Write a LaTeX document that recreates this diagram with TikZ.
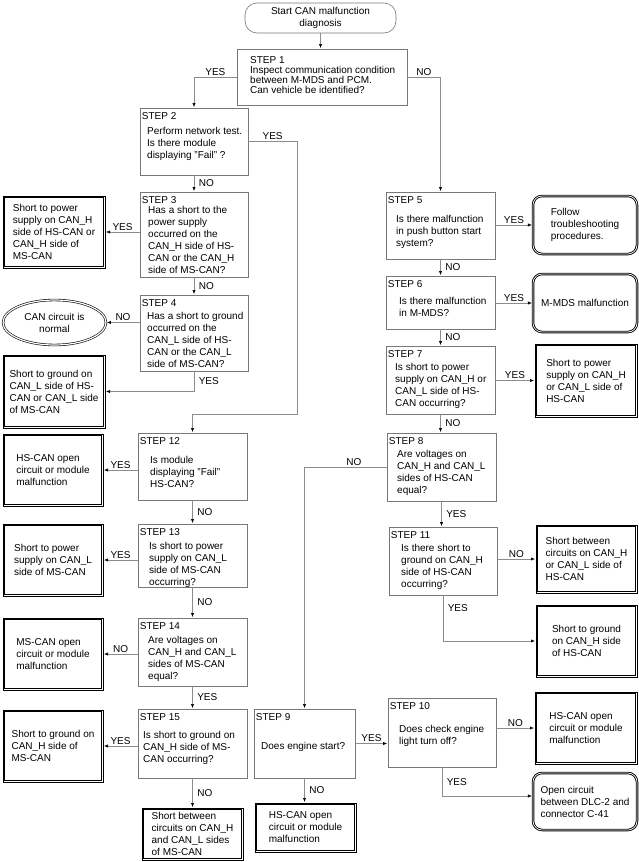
\documentclass[tikz,border=0pt]{standalone}
\usepackage{fontspec}
\setmainfont{Liberation Sans}
\usepackage{xcolor}
\usetikzlibrary{arrows.meta, shapes.geometric}
\definecolor{linegray}{RGB}{140,140,140}
\definecolor{boxgray}{RGB}{120,120,120}

\begin{document}
\begin{tikzpicture}[x=1pt, y=-1pt, font=\fontsize{10}{12}\selectfont,
    wh/.style 2 args={minimum width=#1, minimum height=#2},
    stepbox/.style={draw=boxgray, line width=0.6pt, fill=white, inner sep=0pt},
    stepno/.style={anchor=north west, inner sep=0pt},
    question/.style={anchor=west, align=left, inner sep=0pt},
    faultbox/.style={rectangle, draw=black, line width=0.8pt, align=left, inner sep=0pt},
    endbox/.style={rectangle, draw=black, double=white, double distance=0.7pt, line width=0.9pt, rounded corners=9pt, align=left, inner sep=0pt},
    flow/.style={draw=linegray, line width=0.6pt, shorten >=0.6pt, -{Latex[length=4pt, width=3.2pt, color=black]}},
    lbl/.style={inner sep=1.5pt},
    lblr/.style={lbl, right, xshift=3pt}
]
    \fill[white] (0,0) rectangle (639,862);

    % Start and step 1
    \node[stepbox, rounded corners=12pt, wh={151}{30}, align=center] (start) at (320.5,18) {Start CAN malfunction\\diagnosis};
    \node[stepbox, wh={170}{56}] (s1) at (322,77) {};
    \node[question, font=\fontsize{10}{10}\selectfont] (s1q) at (250,75.5) {STEP 1\\Inspect communication condition\\between M-MDS and PCM.\\Can vehicle be identified?};

    % Left column - steps 2 to 4
    \node[stepbox, wh={108}{67}] (s2) at (194,141.5) {};
    \node[stepno] (s2n) at ([xshift=2pt, yshift=-4.5pt]s2.north west) {STEP 2};
    \node[question] (s2q) at (147,144) {Perform network test.\\Is there module\\displaying "Fail" ?};

    \node[stepbox, wh={108}{85}] (s3) at (194,234.5) {};
    \node[stepno] (s3n) at ([xshift=2pt, yshift=-4.5pt]s3.north west) {STEP 3};
    \node[question] (s3q) at (148,240) {Has a short to the\\power supply\\occurred on the\\CAN\_H side of HS-\\CAN or the CAN\_H\\side of MS-CAN?};

    \node[stepbox, wh={108}{76}] (s4) at (194,333) {};
    \node[stepno] (s4n) at ([xshift=2pt, yshift=-4.5pt]s4.north west) {STEP 4};
    \node[question] (s4q) at (147,340) {Has a short to ground\\occurred on the\\CAN\_L side of HS-\\CAN or the CAN\_L\\side of MS-CAN?};

    \node[faultbox, wh={102}{72}] (r3) at (54,232) {Short to power\\supply on CAN\_H\\side of HS-CAN or\\CAN\_H side of\\MS-CAN};
    \node[ellipse, draw=black, double=white, double distance=1.2pt, line width=0.6pt, wh={103}{45}, align=center, inner sep=0pt] (ok) at (54.5,322.5) {CAN circuit is\\normal};
    \node[faultbox, wh={102}{73}] (r4) at (54,391.5) {Short to ground on\\CAN\_L side of HS-\\CAN or CAN\_L side\\of MS-CAN};

    % Left column - steps 12 to 15
    \node[stepbox, wh={109}{67}] (s12) at (192.5,466.5) {};
    \node[stepno] (s12n) at ([xshift=2pt, yshift=-4.5pt]s12.north west) {STEP 12};
    \node[question] (s12q) at (150,472) {Is module\\displaying "Fail"\\HS-CAN?};

    \node[stepbox, wh={109}{63}] (s13) at (192.5,555.5) {};
    \node[stepno] (s13n) at ([xshift=2pt, yshift=-4.5pt]s13.north west) {STEP 13};
    \node[question] (s13q) at (149,565) {Is short to power\\supply on CAN\_L\\side of MS-CAN\\occurring?};

    \node[stepbox, wh={109}{68}] (s14) at (192.5,652) {};
    \node[stepno] (s14n) at ([xshift=2pt, yshift=-4.5pt]s14.north west) {STEP 14};
    \node[question] (s14q) at (148,658.5) {Are voltages on\\CAN\_H and CAN\_L\\sides of MS-CAN\\equal?};

    \node[stepbox, wh={109}{69}] (s15) at (192.5,743.5) {};
    \node[stepno] (s15n) at ([xshift=2pt, yshift=-4.5pt]s15.north west) {STEP 15};
    \node[question] (s15q) at (143,748) {Is short to ground on\\CAN\_H side of MS-\\CAN occurring?};

    \node[faultbox, wh={100}{72}] (r12) at (53,470) {HS-CAN open\\circuit or module\\malfunction};
    \node[faultbox, wh={100}{72}] (r13) at (53,560) {Short to power\\supply on CAN\_L\\side of MS-CAN};
    \node[faultbox, wh={100}{72}] (r14) at (53,654) {MS-CAN open\\circuit or module\\malfunction};
    \node[faultbox, wh={100}{72}] (r15) at (53,746) {Short to ground on\\CAN\_H side of\\MS-CAN};
    \node[faultbox, wh={101}{52}] (r15n) at (192.5,834) {Short between\\circuits on CAN\_H\\and CAN\_L sides\\of MS-CAN};

    % Right column - steps 5 to 11
    \node[stepbox, wh={109}{67}] (s5) at (440.5,225.5) {};
    \node[stepno] (s5n) at ([xshift=2pt, yshift=-4.5pt]s5.north west) {STEP 5};
    \node[question] (s5q) at (396,232) {Is there malfunction\\in push button start\\system?};

    \node[stepbox, wh={109}{53}] (s6) at (440.5,302.5) {};
    \node[stepno] (s6n) at ([xshift=2pt, yshift=-4.5pt]s6.north west) {STEP 6};
    \node[question] (s6q) at (399,307) {Is there malfunction\\in M-MDS?};

    \node[stepbox, wh={109}{68}] (s7) at (440.5,380) {};
    \node[stepno] (s7n) at ([xshift=2pt, yshift=-4.5pt]s7.north west) {STEP 7};
    \node[question] (s7q) at (395,386) {Is short to power\\supply on CAN\_H or\\CAN\_L side of HS-\\CAN occurring?};

    \node[stepbox, wh={109}{68}] (s8) at (441.5,467) {};
    \node[stepno] (s8n) at ([xshift=2pt, yshift=-4.5pt]s8.north west) {STEP 8};
    \node[question] (s8q) at (397,473) {Are voltages on\\CAN\_H and CAN\_L\\sides of HS-CAN\\equal?};

    \node[stepbox, wh={108}{68}] (s11) at (443,561) {};
    \node[stepno] (s11n) at ([xshift=2pt, yshift=-4.5pt]s11.north west) {STEP 11};
    \node[question] (s11q) at (401,567) {Is there short to\\ground on CAN\_H\\side of HS-CAN\\occurring?};

    \node[endbox, wh={104}{58}] (r5) at (585,225) {Follow\\troubleshooting\\procedures.};
    \node[endbox, wh={104}{58}] (r6) at (585,303) {M-MDS malfunction};
    \node[faultbox, wh={102}{73}] (r7) at (586,380.5) {Short to power\\supply on CAN\_H\\or CAN\_L side of\\HS-CAN};
    \node[faultbox, wh={101}{68}] (r11n) at (586.5,559) {Short between\\circuits on CAN\_H\\or CAN\_L side of\\HS-CAN};
    \node[faultbox, wh={101}{72}] (r11y) at (586.5,641) {Short to ground\\on CAN\_H side\\of HS-CAN};

    % Bottom - steps 9 and 10
    \node[stepbox, wh={101}{69}] (s9) at (304.5,743.5) {};
    \node[stepno] (s9n) at ([xshift=2pt, yshift=-4.5pt]s9.north west) {STEP 9};
    \node[question] (s9q) at (261,747) {Does engine start?};

    \node[stepbox, wh={108}{69}] (s10) at (442,732.5) {};
    \node[stepno] (s10n) at ([xshift=2pt, yshift=-4.5pt]s10.north west) {STEP 10};
    \node[question] (s10q) at (399,736) {Does check engine\\light turn off?};

    \node[faultbox, wh={101}{49}] (r9) at (305.5,827.5) {HS-CAN open\\circuit or module\\malfunction};
    \node[faultbox, wh={102}{72}] (r10n) at (586,728) {HS-CAN open\\circuit or module\\malfunction};
    \node[endbox, wh={104}{57}] (r10y) at (585,801.5) {Open circuit\\between DLC-2 and\\connector C-41};

    % Inner frames of the fault boxes
    \foreach \b in {r3,r4,r12,r13,r14,r15,r15n,r7,r11n,r11y,r9,r10n}
        \draw[line width=0.5pt] ([xshift=1.8pt, yshift=-1.8pt]\b.north west) rectangle ([xshift=-1.8pt, yshift=1.8pt]\b.south east);

    % Connectors
    \coordinate (j2) at (297,414);
    \draw[flow] (start.south) -- (start.south |- s1.north);
    \draw[flow] (s1.west) -| node[lbl, above, pos=0.25] (y1) {YES} (s2.north);
    \draw[flow] (s1.east) -| node[lbl, above, pos=0.25] (n1) {NO} (s5.north);
    \draw[flow] (s2.east) -| node[lbl, above, pos=0.25] (y2) {YES} (j2) -| (s12.north);
    \draw[flow] (s2) -- node[lblr] (n2) {NO} (s3);
    \draw[flow] (s3.west |- r3.east) -- node[lbl, above] (y3) {YES} (r3.east);
    \draw[flow] (s3) -- node[lblr] (n3) {NO} (s4);
    \draw[flow] (s4.west |- ok.east) -- node[lbl, above] (n4) {NO} (ok.east);
    \draw[flow] (s4.south) |- node[lblr, pos=0.25] (y4) {YES} (r4.east);

    \draw[flow] (s12.west |- r12.east) -- node[lbl, above] (y12) {YES} (r12.east);
    \draw[flow] (s12) -- node[lblr] (n12) {NO} (s13);
    \draw[flow] (s13.west |- r13.east) -- node[lbl, above] (y13) {YES} (r13.east);
    \draw[flow] (s13) -- node[lblr] (n13) {NO} (s14);
    \draw[flow] (s14.west |- r14.east) -- node[lbl, above] (n14) {NO} (r14.east);
    \draw[flow] (s14) -- node[lblr] (y14) {YES} (s15);
    \draw[flow] (s15.west |- r15.east) -- node[lbl, above] (y15) {YES} (r15.east);
    \draw[flow] (s15) -- node[lblr] (n15) {NO} (r15n);

    \draw[flow] (s5.east |- r5.west) -- node[lbl, above] (y5) {YES} (r5.west);
    \draw[flow] (s5) -- node[lblr] (n5) {NO} (s6);
    \draw[flow] (s6.east |- r6.west) -- node[lbl, above] (y6) {YES} (r6.west);
    \draw[flow] (s6) -- node[lblr] (n6) {NO} (s7);
    \draw[flow] (s7.east |- r7.west) -- node[lbl, above] (y7) {YES} (r7.west);
    \draw[flow] (s7.south) -- node[lblr] (n7) {NO} (s7.south |- s8.north);
    \draw[flow] (s8.west) -| node[lbl, above, pos=0.2] (n8) {NO} (s9.north);
    \draw[flow] (s8.south) -- node[lblr] (y8) {YES} (s8.south |- s11.north);
    \draw[flow] (s11.east |- r11n.west) -- node[lbl, above] (n11) {NO} (r11n.west);
    \draw[flow] (s11.south) |- node[lblr, pos=0.14] (y11) {YES} (r11y.west);

    \draw[flow] (s9.east) -- node[lbl, above] (y9) {YES} (s9.east -| s10.west);
    \draw[flow] (s9.south) -- node[lblr] (n9) {NO} (s9.south |- r9.north);
    \draw[flow] (s10.east |- r10n.west) -- node[lbl, above] (n10) {NO} (r10n.west);
    \draw[flow] (s10.south) |- node[lblr, pos=0.25] (y10) {YES} ([yshift=5.5pt]r10y.west);
\end{tikzpicture}
\end{document}
